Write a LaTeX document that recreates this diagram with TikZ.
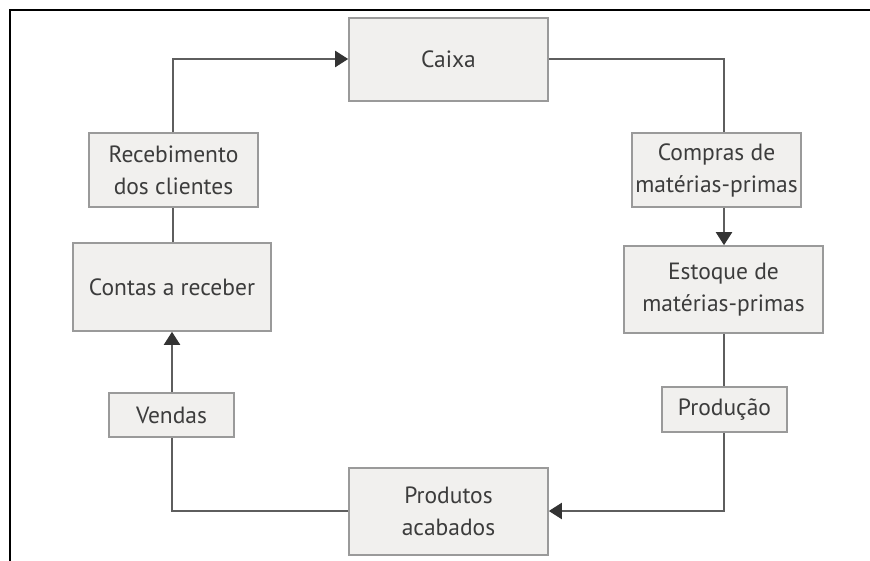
\documentclass[tikz,border=0pt]{standalone}
\usepackage{fontspec}
\setmainfont{PT Sans}
\usetikzlibrary{arrows.meta}
\definecolor{boxfill}{HTML}{F1F0EE}
\definecolor{boxline}{HTML}{9A9A9A}
\definecolor{conn}{HTML}{5E5E5E}
\definecolor{tip}{HTML}{333333}
\definecolor{txt}{HTML}{3C3C3C}
\tikzset{
  box/.style={draw=boxline, line width=1.6pt, fill=boxfill, inner sep=0pt,
    align=center, text=txt, font=\fontsize{23.5}{32}\selectfont},
  conn/.style={draw=conn, line width=2pt},
  arr/.style={conn, -{Triangle[length=13pt,width=16pt,color=tip,fill=tip]}}
}
\begin{document}
\begin{tikzpicture}[x=1pt,y=-1pt]
\useasboundingbox (0,0) rectangle (870,561);
\draw[black, line width=2.2pt] (10,561) -- (10,10) -- (870,10);
\node[box, minimum width=199pt, minimum height=83pt] (caixa) at (448.5,59.5) {Caixa};
\node[box, minimum width=169pt, minimum height=74pt] (receb) at (173.5,170) {Recebimento\\dos clientes};
\node[box, minimum width=169pt, minimum height=74pt] (compras) at (716.5,170) {Compras de\\matérias-primas};
\node[box, minimum width=198pt, minimum height=88pt] (contas) at (172,287) {Contas a receber};
\node[box, minimum width=199pt, minimum height=87pt] (estoque) at (723.5,289.5) {Estoque de\\matérias-primas};
\node[box, minimum width=125pt, minimum height=44pt] (vendas) at (171.5,415) {Vendas};
\node[box, minimum width=125pt, minimum height=45pt] (producao) at (724.5,409.5) {Produção};
\node[box, minimum width=199pt, minimum height=87pt] (produtos) at (448.5,511.5) {Produtos\\acabados};
\coordinate (c1) at (173,59);
\coordinate (c2) at (724,59);
\coordinate (c3) at (724,511);
\coordinate (c4) at (172,511);
% Caixa -> Compras -> Estoque
\draw[conn] (caixa.east |- c2) -- (c2) -- (compras.north -| c2);
\draw[arr] (compras.south -| c2) -- (estoque.north -| c2);
% Estoque -> Produção -> Produtos
\draw[conn] (estoque.south -| c2) -- (producao.north -| c2);
\draw[arr] (producao.south -| c3) -- (c3) -- (produtos.east |- c3);
% Produtos -> Vendas -> Contas
\draw[conn] (produtos.west |- c4) -- (c4) -- (vendas.south -| c4);
\draw[arr] (vendas.north -| c4) -- (contas.south -| c4);
% Contas -> Recebimento -> Caixa
\draw[conn] (contas.north -| c1) -- (receb.south -| c1);
\draw[arr] (receb.north -| c1) -- (c1) -- (caixa.west |- c1);
\end{tikzpicture}
\end{document}
